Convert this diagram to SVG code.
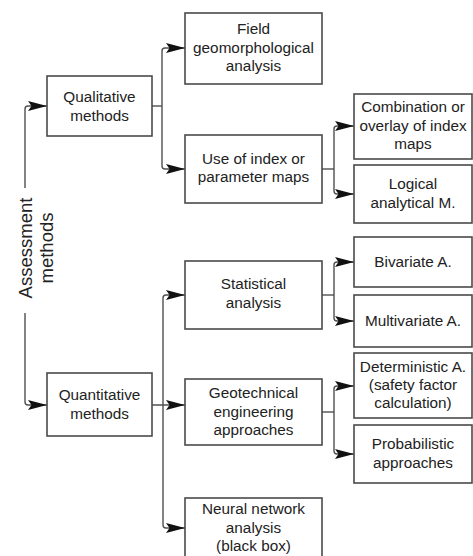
<svg xmlns="http://www.w3.org/2000/svg" width="473" height="556" viewBox="0 0 473 556">
<style>
.box{fill:#fff;stroke:#4a4a4a;stroke-width:1.6}
.t{font-family:"Liberation Sans",Arial,sans-serif;font-size:15.3px;fill:#222;text-anchor:middle}
.r{font-family:"Liberation Sans",Arial,sans-serif;font-size:18.5px;fill:#222;text-anchor:middle}
.c{fill:none;stroke:#505050;stroke-width:1.4}
</style>
<defs>
<marker id="ah" markerUnits="userSpaceOnUse" markerWidth="21" markerHeight="11" refX="19" refY="5" orient="auto">
<path d="M0,0 L19,5 L0,10 L3.5,5 Z" fill="#111"/>
</marker>
</defs>
<rect width="473" height="556" fill="#fff"/>
<g id="assessment">
<text class="r" transform="translate(32,248) rotate(-90)">Assessment</text>
<text class="r" transform="translate(53,248) rotate(-90)">methods</text>
</g>
<g id="connectors">
<path class="c" d="M25,188 V109 Q25,106 28,106 H47" marker-end="url(#ah)"/>
<path class="c" d="M25,313 V402 Q25,405 28,405 H47" marker-end="url(#ah)"/>
<path class="c" d="M152,106 H162"/>
<path class="c" d="M162,106 V51 Q162,48 165,48 H185" marker-end="url(#ah)"/>
<path class="c" d="M162,106 V166 Q162,169 165,169 H185" marker-end="url(#ah)"/>
<path class="c" d="M322,169 H334"/>
<path class="c" d="M334,169 V129 Q334,126 337,126 H354" marker-end="url(#ah)"/>
<path class="c" d="M334,169 V191 Q334,194 337,194 H354" marker-end="url(#ah)"/>
<path class="c" d="M152,405 H185" marker-end="url(#ah)"/>
<path class="c" d="M163,405 V298 Q163,295 166,295 H185" marker-end="url(#ah)"/>
<path class="c" d="M163,405 V525 Q163,528 166,528 H185" marker-end="url(#ah)"/>
<path class="c" d="M322,295 H334"/>
<path class="c" d="M334,295 V265 Q334,262 337,262 H354" marker-end="url(#ah)"/>
<path class="c" d="M334,295 V318 Q334,321 337,321 H354" marker-end="url(#ah)"/>
<path class="c" d="M322,412 H334"/>
<path class="c" d="M334,412 V389 Q334,386 337,386 H354" marker-end="url(#ah)"/>
<path class="c" d="M334,412 V451 Q334,454 337,454 H354" marker-end="url(#ah)"/>
</g>
<g id="qualitative">
<rect class="box" x="47" y="76" width="105" height="60"/>
<text class="t" x="99.5" y="102">Qualitative</text>
<text class="t" x="99.5" y="121">methods</text>
</g>
<g id="quantitative">
<rect class="box" x="47" y="373" width="105" height="63"/>
<text class="t" x="99.5" y="400">Quantitative</text>
<text class="t" x="99.5" y="419">methods</text>
</g>
<g id="field">
<rect class="box" x="185" y="13" width="137" height="71"/>
<text class="t" x="253.5" y="34">Field</text>
<text class="t" x="253.5" y="53">geomorphological</text>
<text class="t" x="253.5" y="71">analysis</text>
</g>
<g id="index">
<rect class="box" x="185" y="135" width="137" height="68"/>
<text class="t" x="253.5" y="164">Use of index or</text>
<text class="t" x="253.5" y="182">parameter maps</text>
</g>
<g id="statistical">
<rect class="box" x="185" y="261" width="137" height="68"/>
<text class="t" x="253.5" y="289">Statistical</text>
<text class="t" x="253.5" y="308">analysis</text>
</g>
<g id="geotechnical">
<rect class="box" x="185" y="379" width="137" height="66"/>
<text class="t" x="253.5" y="398">Geotechnical</text>
<text class="t" x="253.5" y="417">engineering</text>
<text class="t" x="253.5" y="435">approaches</text>
</g>
<g id="neural">
<rect class="box" x="185" y="498" width="137" height="62"/>
<text class="t" x="253.5" y="514">Neural network</text>
<text class="t" x="253.5" y="533">analysis</text>
<text class="t" x="253.5" y="551">(black box)</text>
</g>
<g id="combination">
<rect class="box" x="354" y="94" width="118" height="65"/>
<text class="t" x="413" y="112">Combination or</text>
<text class="t" x="413" y="131">overlay of index</text>
<text class="t" x="413" y="149">maps</text>
</g>
<g id="logical">
<rect class="box" x="354" y="165" width="118" height="58"/>
<text class="t" x="413" y="189">Logical</text>
<text class="t" x="413" y="208">analytical M.</text>
</g>
<g id="bivariate">
<rect class="box" x="354" y="237" width="118" height="50"/>
<text class="t" x="413" y="267">Bivariate A.</text>
</g>
<g id="multivariate">
<rect class="box" x="354" y="295" width="118" height="52"/>
<text class="t" x="413" y="326">Multivariate A.</text>
</g>
<g id="deterministic">
<rect class="box" x="354" y="353" width="118" height="65"/>
<text class="t" x="413" y="372">Deterministic A.</text>
<text class="t" x="413" y="390">(safety factor</text>
<text class="t" x="413" y="408">calculation)</text>
</g>
<g id="probabilistic">
<rect class="box" x="354" y="425" width="118" height="58"/>
<text class="t" x="413" y="449">Probabilistic</text>
<text class="t" x="413" y="468">approaches</text>
</g>
</svg>
